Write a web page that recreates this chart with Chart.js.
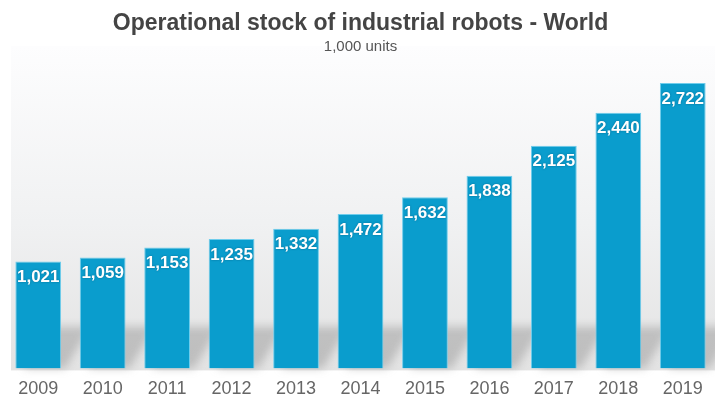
<!DOCTYPE html>
<html>
<head>
<meta charset="utf-8">
<script src="https://cdn.jsdelivr.net/npm/chart.js@4"></script>
<style>
  html, body { margin: 0; padding: 0; background: #fff; }
  #wrap { width: 715px; height: 402px; }
</style>
</head>
<body>
<div id="wrap"><canvas id="robotChart"></canvas></div>
<script>
const years = ['2009', '2010', '2011', '2012', '2013', '2014', '2015', '2016', '2017', '2018', '2019'];
const stock = [1021, 1059, 1153, 1235, 1332, 1472, 1632, 1838, 2125, 2440, 2722];

const FONT = '"Liberation Sans", Arial, sans-serif';

// soft grey panel behind everything
const panelBg = {
    id: 'panelBg',
    beforeDraw(chart) {
        const ctx = chart.ctx;
        const area = chart.chartArea;
        const g = ctx.createLinearGradient(0, 46, 0, area.bottom);
        g.addColorStop(0, '#fdfdfe');
        g.addColorStop(0.55, '#f0f1f2');
        g.addColorStop(1, '#e3e3e3');
        ctx.save();
        ctx.fillStyle = g;
        ctx.fillRect(11, 46, chart.width - 11, area.bottom - 44);
        ctx.restore();
    }
};

// slanted shadows at the feet of the bars
const barShadows = {
    id: 'barShadows',
    beforeDatasetsDraw(chart) {
        const ctx = chart.ctx;
        ctx.save();
        ctx.filter = 'blur(4px)';
        ctx.fillStyle = 'rgba(120,120,120,0.35)';
        chart.getDatasetMeta(0).data.forEach(bar => {
            const half = bar.width / 2;
            const l = bar.x - half, r = bar.x + half, b = bar.base;
            ctx.beginPath();
            ctx.moveTo(l + 8, b);
            ctx.lineTo(r + 4, b);
            ctx.lineTo(r + 30, b - 42);
            ctx.lineTo(l + 30, b - 42);
            ctx.closePath();
            ctx.fill();
        });
        ctx.restore();
    }
};

// white value labels inside the top of each bar
const valueLabels = {
    id: 'valueLabels',
    afterDatasetsDraw(chart) {
        const ctx = chart.ctx;
        const meta = chart.getDatasetMeta(0);
        ctx.save();
        ctx.font = 'bold 17px ' + FONT;
        ctx.fillStyle = '#ffffff';
        ctx.textAlign = 'center';
        ctx.textBaseline = 'middle';
        ctx.shadowColor = 'rgba(0,60,90,0.5)';
        ctx.shadowBlur = 2;
        meta.data.forEach((bar, i) => {
            ctx.fillText(stock[i].toLocaleString('en-US'), bar.x, bar.y + 16);
        });
        ctx.restore();
    }
};

new Chart(document.getElementById('robotChart'), {
    type: 'bar',
    data: {
        labels: years,
        datasets: [{
            label: 'Operational stock',
            data: stock,
            backgroundColor: '#0a9dcd',
            borderColor: '#6fcdec',
            borderWidth: 1,
            barPercentage: 0.71,
            categoryPercentage: 1.0
        }]
    },
    options: {
        responsive: true,
        maintainAspectRatio: false,
        animation: false,
        layout: { padding: { left: 6, right: 0, top: 0, bottom: -8 } },
        plugins: {
            legend: { display: false },
            tooltip: { enabled: false },
            title: {
                display: true,
                text: 'Operational stock of industrial robots - World',
                color: '#444',
                font: { family: FONT, size: 23, weight: 'bold' },
                padding: { top: 10, bottom: 0 }
            },
            subtitle: {
                display: true,
                text: '1,000 units',
                color: '#555',
                font: { family: FONT, size: 15 },
                padding: { bottom: 2 }
            }
        },
        scales: {
            x: {
                grid: { display: false, drawTicks: false },
                border: { display: false },
                ticks: {
                    color: '#666',
                    font: { family: FONT, size: 18 },
                    padding: 10
                }
            },
            y: {
                display: false,
                min: 0,
                max: 2965
            }
        }
    },
    plugins: [panelBg, barShadows, valueLabels]
});
</script>
</body>
</html>
